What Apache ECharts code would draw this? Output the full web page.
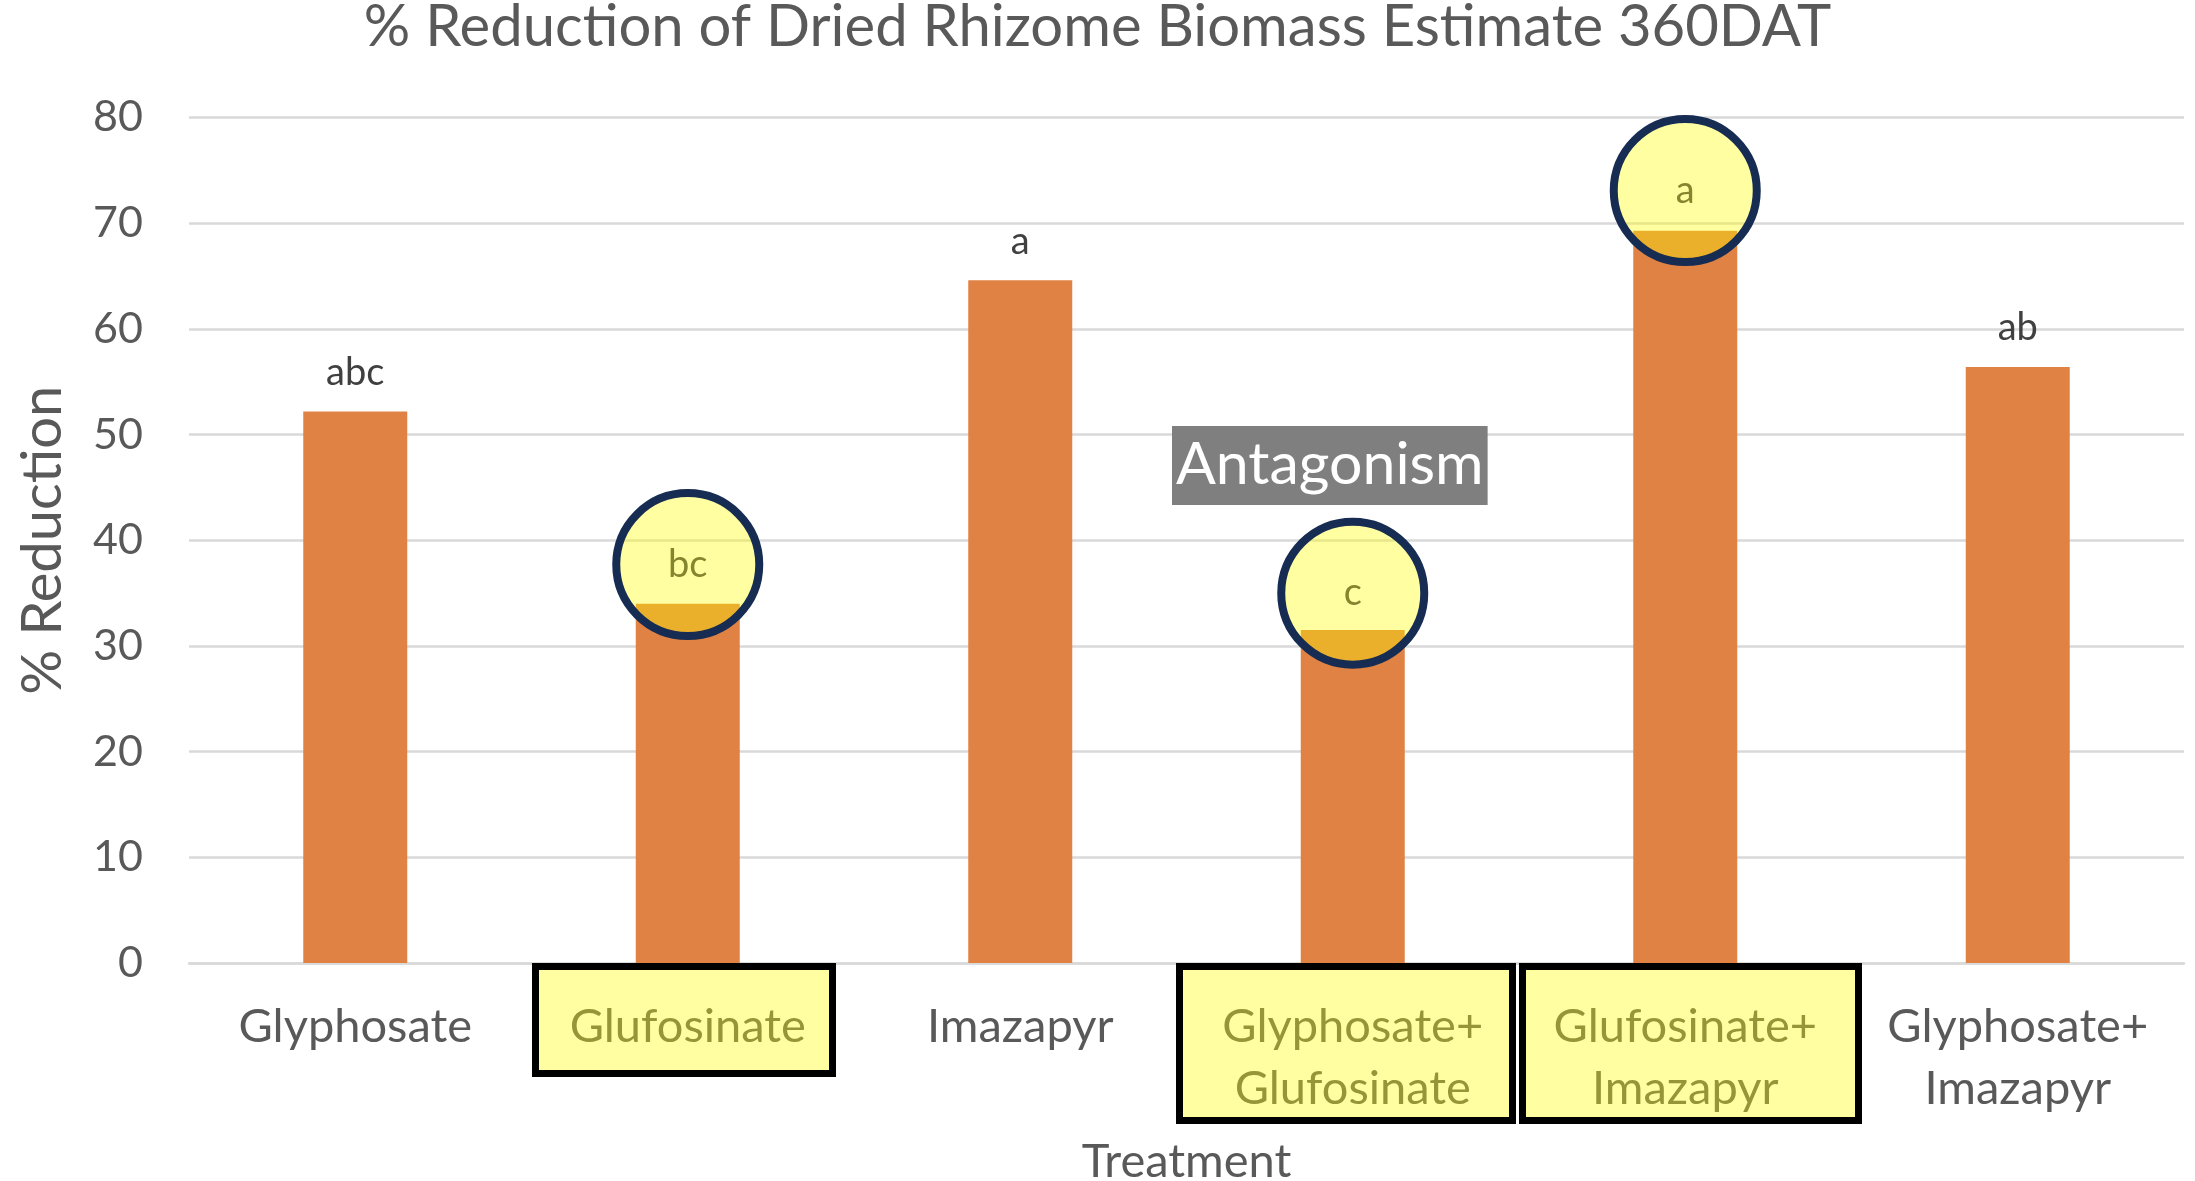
<!DOCTYPE html>
<html>
<head>
<meta charset="utf-8">
<script src="https://cdn.jsdelivr.net/npm/echarts@6/dist/echarts.min.js"></script>
<style>
html,body{margin:0;padding:0;background:#fff;}
#main{width:2195px;height:1181px;}
</style>
</head>
<body>
<div id="main"></div>
<script>
var categories = ['Glyphosate', 'Glufosinate', 'Imazapyr', 'Glyphosate+\nGlufosinate', 'Glufosinate+\nImazapyr', 'Glyphosate+\nImazapyr'];
var reductions = [52.2, 34.0, 64.6, 31.5, 69.3, 56.4];
var letters = ['abc', 'bc', 'a', 'c', 'a', 'ab'];
// highlighted treatments: circle over the bar top
var circleCats = [1, 3, 4];
var circleY = [37.7, 35.0, 73.1];
var yTicks = [0, 10, 20, 30, 40, 50, 60, 70, 80];

var font = 'Lato';
var grey = '#595959';

function init(){
	var chart = echarts.init(document.getElementById('main'));

	var barData = reductions.map(function(v, i){
		return {
			value: v,
			label: { show: circleCats.indexOf(i) < 0 }
		};
	});
	var circleData = circleCats.map(function(c, k){
		return { value: [c, circleY[k]], name: letters[c] };
	});

	var option = {
		animation: false,
		title: {
			text: '% Reduction of Dried Rhizome Biomass Estimate 360DAT',
			left: 'center',
			top: -2,
			padding: 0,
			textStyle: { color: grey, fontFamily: font, fontSize: 58, fontWeight: 'normal' }
		},
		grid: { left: 189, right: 11, top: 117.6, bottom: 218, containLabel: false, outerBoundsMode: 'none' },
		xAxis: {
			type: 'category',
			data: categories,
			name: 'Treatment',
			nameLocation: 'middle',
			nameGap: 175,
			nameTextStyle: { color: grey, fontFamily: font, fontSize: 47 },
			axisLine: { show: true, lineStyle: { color: '#D9D9D9', width: 2.5 } },
			axisTick: { show: false },
			axisLabel: {
				interval: 0,
				color: grey,
				fontFamily: font,
				fontSize: 47,
				lineHeight: 62,
				margin: 33,
				verticalAlign: 'top'
			}
		},
		yAxis: {
			type: 'value',
			min: yTicks[0],
			max: yTicks[yTicks.length - 1],
			interval: 10,
			name: '% Reduction',
			nameLocation: 'middle',
			nameGap: 118,
			nameTextStyle: { color: grey, fontFamily: font, fontSize: 56 },
			axisLine: { show: false },
			axisTick: { show: false },
			axisLabel: { color: grey, fontFamily: font, fontSize: 43, margin: 46 },
			splitLine: { lineStyle: { color: '#D9D9D9', width: 2.5 } }
		},
		series: [{
			type: 'bar',
			data: barData,
			barWidth: 104,
			itemStyle: { color: '#DF8244' },
			label: {
				position: 'top',
				distance: 20,
				color: '#404040',
				fontFamily: font,
				fontSize: 38,
				formatter: function(p){ return letters[p.dataIndex]; }
			}
		}, {
			type: 'scatter',
			data: circleData,
			symbol: 'circle',
			symbolSize: 143,
			z: 5,
			itemStyle: {
				color: 'rgba(255,255,0,0.37)',
				borderColor: '#172C52',
				borderWidth: 8,
				opacity: 1
			},
			label: {
				show: true,
				position: 'inside',
				color: '#85852F',
				fontFamily: font,
				fontSize: 38,
				formatter: function(p){ return p.name; }
			}
		}],
		graphic: [{
			type: 'text',
			left: 1172,
			top: 426,
			z: 100,
			style: {
				text: 'Antagonism',
				fill: '#fff',
				font: '59px Lato',
				backgroundColor: '#7F7F7F',
				padding: [9, 4, 11, 4]
			}
		}, {
			type: 'rect',
			z: 100,
			shape: { x: 535.5, y: 966.5, width: 297, height: 107 },
			style: { fill: 'rgba(255,255,0,0.37)', stroke: '#000', lineWidth: 7 }
		}, {
			type: 'rect',
			z: 100,
			shape: { x: 1179.5, y: 966.5, width: 333, height: 154 },
			style: { fill: 'rgba(255,255,0,0.37)', stroke: '#000', lineWidth: 7 }
		}, {
			type: 'rect',
			z: 100,
			shape: { x: 1522.5, y: 966.5, width: 336, height: 154 },
			style: { fill: 'rgba(255,255,0,0.37)', stroke: '#000', lineWidth: 7 }
		}]
	};
	chart.setOption(option);
}
init();
</script>
</body>
</html>
